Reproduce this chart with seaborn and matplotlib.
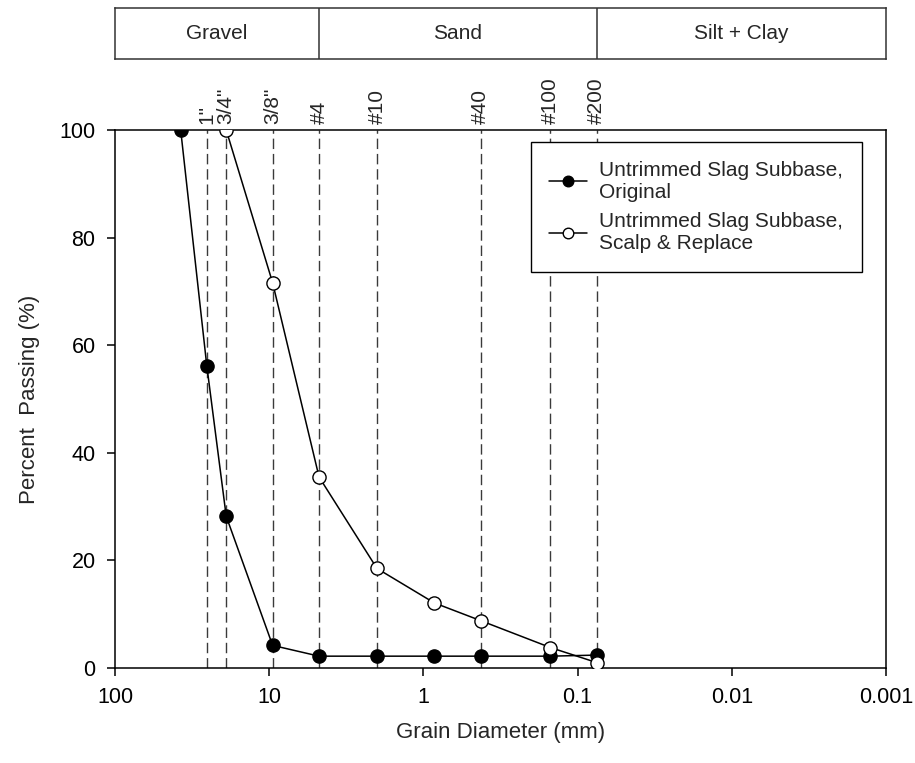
import matplotlib
matplotlib.use("Agg")
import matplotlib.pyplot as plt
import matplotlib.transforms as mtransforms
import seaborn as sns
import pandas as pd
import numpy as np

sns.set_style("white")
plt.rcParams['font.family'] = ['Liberation Sans', 'DejaVu Sans']

# ---- data ----
orig_size = [37.5, 25.4, 19.0, 9.5, 4.75, 2.0, 0.85, 0.425, 0.15, 0.075]
orig_pass = [100.0, 56.2, 28.2, 4.2, 2.2, 2.2, 2.2, 2.2, 2.2, 2.4]
scalp_size = [19.0, 9.5, 4.75, 2.0, 0.85, 0.425, 0.15, 0.075]
scalp_pass = [100.0, 71.6, 35.5, 18.5, 12.1, 8.8, 3.8, 1.0]
sieve_sizes = [25.4, 19.0, 9.5, 4.75, 2.0, 0.425, 0.15, 0.075]
sieve_labels = ['1"', '3/4"', '3/8"', '#4', '#10', '#40', '#100', '#200']
zone_bounds = [100, 4.75, 0.075, 0.001]
zone_labels = ['Gravel', 'Sand', 'Silt + Clay']
x_ticks = [100, 10, 1, 0.1, 0.01, 0.001]
x_ticklabels = ['100', '10', '1', '0.1', '0.01', '0.001']
y_ticks = [0, 20, 40, 60, 80, 100]
label_orig = 'Untrimmed Slag Subbase,\nOriginal'
label_scalp = 'Untrimmed Slag Subbase,\nScalp & Replace'

df_o = pd.DataFrame({'size': orig_size, 'pass': orig_pass})
df_s = pd.DataFrame({'size': scalp_size, 'pass': scalp_pass})

W, H = 915, 763
fig = plt.figure(figsize=(W / 100, H / 100), dpi=100)
L, R, T, B = 115, 886, 130, 668
ax = fig.add_axes([L / W, (H - B) / H, (R - L) / W, (B - T) / H])
axb = fig.add_axes([L / W, (H - 59) / H, (R - L) / W, (59 - 8) / H])

FS = 15
FS_TICK = 15.5
FS_LAB = 16

# dashed sieve lines
for s in sieve_sizes:
    ax.axvline(s, color='#3a3a3a', lw=1.0, dashes=(7.5, 3.5), zorder=1)

sns.lineplot(data=df_o, x='size', y='pass', ax=ax, color='black', lw=1.1,
             marker='o', markersize=9.5, markerfacecolor='black',
             markeredgecolor='black', markeredgewidth=1.0,
             estimator=None, sort=False, label=label_orig, zorder=3)
sns.lineplot(data=df_s, x='size', y='pass', ax=ax, color='black', lw=1.1,
             marker='o', markersize=9.5, markerfacecolor='white',
             markeredgecolor='black', markeredgewidth=1.0,
             estimator=None, sort=False, label=label_scalp, zorder=3)

ax.set_xscale('log')
ax.set_xlim(100, 0.001)
ax.set_ylim(0, 100)
ax.set_xticks(x_ticks)
ax.set_xticklabels(x_ticklabels)
ax.xaxis.set_minor_locator(matplotlib.ticker.NullLocator())
ax.set_yticks(y_ticks)
ax.tick_params(axis='both', direction='out', length=6, width=1.1,
               labelsize=FS_TICK, colors='black', bottom=True, left=True, pad=8)
for sp in ax.spines.values():
    sp.set_color('black')
    sp.set_linewidth(1.1)
ax.set_xlabel('Grain Diameter (mm)', fontsize=FS_LAB, labelpad=10)
ax.set_ylabel('Percent  Passing (%)', fontsize=FS_LAB, labelpad=14)

# sieve labels on top
trans = mtransforms.blended_transform_factory(ax.transData, ax.transAxes)
for s, lab in zip(sieve_sizes, sieve_labels):
    ax.text(s, 1.012, lab, rotation=90, ha='center', va='bottom',
            fontsize=FS, transform=trans)

leg = ax.legend(loc='upper right', bbox_to_anchor=(0.969, 0.978),
                fontsize=FS, frameon=True, fancybox=False, framealpha=1,
                edgecolor='black', handlelength=1.8, handletextpad=0.6,
                borderpad=0.9, labelspacing=0.5, markerscale=0.8,
                borderaxespad=0)
leg.get_frame().set_linewidth(1.0)

# zone box
axb.set_xscale('log')
axb.set_xlim(100, 0.001)
axb.set_ylim(0, 1)
axb.set_xticks([])
axb.set_yticks([])
axb.xaxis.set_minor_locator(matplotlib.ticker.NullLocator())
for sp in axb.spines.values():
    sp.set_color('#333333')
    sp.set_linewidth(1.1)
for b in zone_bounds[1:-1]:
    axb.axvline(b, color='#333333', lw=1.1)
for i, lab in enumerate(zone_labels):
    xc = 10 ** ((np.log10(zone_bounds[i]) + np.log10(zone_bounds[i + 1])) / 2)
    axb.text(xc, 0.5, lab, ha='center', va='center', fontsize=FS)

fig.savefig('out.png', dpi=100)
